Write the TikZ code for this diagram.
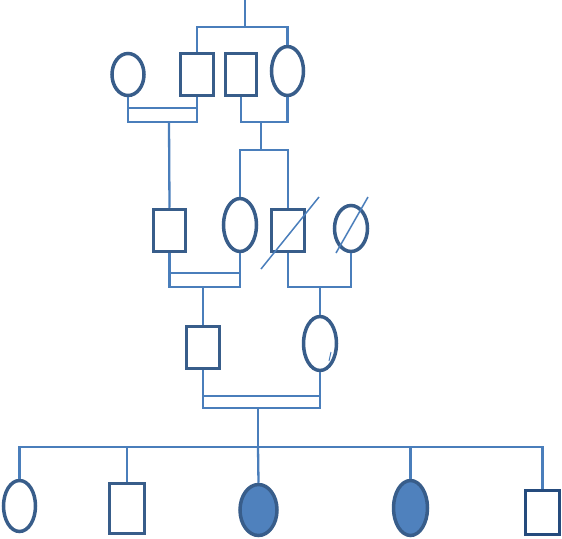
\documentclass[tikz,border=0pt]{standalone}
\usetikzlibrary{shapes.geometric}
\definecolor{outl}{HTML}{385D8A}
\definecolor{outd}{HTML}{254B7D}
\definecolor{conn}{HTML}{4A7EBB}
\definecolor{fillb}{HTML}{4F81BD}
\tikzset{
  male/.style={draw=outl, line width=3.5pt, rectangle, inner sep=0pt, fill=white, minimum width=#1},
  female/.style={draw=outl, line width=3.5pt, ellipse, inner sep=0pt, fill=white, minimum width=#1},
  conline/.style={draw=conn, line width=2.3pt},
  slash/.style={draw=conn, line width=1.5pt},
}
\begin{document}
\begin{tikzpicture}[x=1pt,y=-1pt]
\useasboundingbox (0,0) rectangle (562,538);
% generation 1
\node[female=32pt, minimum height=42pt] (e1) at (128,74.5) {};
\node[male=33pt, minimum height=42pt] (s1) at (197,74.5) {};
\node[male=31pt, minimum height=42pt] (s2) at (241,74.5) {};
\node[female=32pt, minimum height=49pt] (e2) at (287.5,71) {};
% generation 2
\node[male=32pt, minimum height=42pt] (sA) at (169.5,230.5) {};
\node[female=33pt, minimum height=53pt] (eB) at (240,225) {};
\node[male=33pt, minimum height=42pt] (sC) at (288,230.5) {};
\node[female=33pt, minimum height=46pt] (eD) at (351,228.5) {};
% generation 3
\node[male=33pt, minimum height=42pt] (sE) at (203,347.5) {};
\node[female=33pt, minimum height=54pt] (eF) at (320,343.5) {};
% children
\node[female=32pt, minimum height=51pt] (c1) at (19.5,506) {};
\node[male=35pt, minimum height=50pt, line width=3.2pt] (c2) at (127,508.5) {};
\node[female=37pt, minimum height=51pt, fill=fillb] (c3) at (258.5,510) {};
\node[female=34pt, minimum height=55pt, fill=fillb] (c4) at (410.5,508) {};
\node[male=34pt, minimum height=44pt, draw=outd] (c5) at (542.5,512.5) {};

% coordinates
\coordinate (t0) at (245,0);
\coordinate (t1) at (245,27);
\coordinate (m1) at (169,122);
\coordinate (m1b) at (169,108);
\coordinate (m2) at (261,122);
\coordinate (m2c) at (261,150);
\coordinate (mA) at (203,287);
\coordinate (mAb) at (203,273);
\coordinate (mC) at (320,287);
\coordinate (mE) at (258,408);
\coordinate (mEb) at (258,396);
\coordinate (sib) at (258,447);

% top parents
\draw[conline] (t0) -- (t1);
\draw[conline] (s1.north) |- (t1) -| (e2.north);
% couple e1-s1 (double line)
\draw[conline] (e1.south) |- (m1) -| (s1.south);
\draw[conline] (e1.south |- m1b) -- (s1.south |- m1b);
\draw[conline] (m1) -- (sA.north);
% couple s2-e2
\draw[conline] (s2.south) |- (m2) -| (e2.south);
\draw[conline] (m2) -- (m2c);
\draw[conline] (eB.north) |- (m2c) -| (sC.north);
% couple A-B (double)
\draw[conline] (sA.south) |- (mA) -| (eB.south);
\draw[conline] (sA.south |- mAb) -- (eB.south |- mAb);
\draw[conline] (mA) -- (sE.north);
% couple C-D
\draw[conline] (sC.south) |- (mC) -| (eD.south);
\draw[conline] (mC) -- (eF.north);
% couple E-F (double)
\draw[conline] (sE.south) |- (mE) -| (eF.south);
\draw[conline] (sE.south |- mEb) -- (eF.south |- mEb);
\draw[conline] (mE) -- (sib);
% sibship
\draw[conline] (c1.north) |- (sib) -| (c5.north);
\draw[conline] (c2.north) -- (c2.north |- sib);
\draw[conline] (c3.north) -- (sib);
\draw[conline] (c4.north) -- (c4.north |- sib);
% deceased slashes
\coordinate (dC1) at (261,269);
\coordinate (dC2) at (319,197);
\coordinate (dD1) at (336,253);
\coordinate (dD2) at (368,197);
\draw[slash] (dC1) -- (dC2);
\draw[slash] (dD1) -- (dD2);
% small tick in eF
\coordinate (k1) at (331,352);
\coordinate (k2) at (329,361);
\draw[conn, line width=1pt] (k1) -- (k2);
\end{tikzpicture}
\end{document}
